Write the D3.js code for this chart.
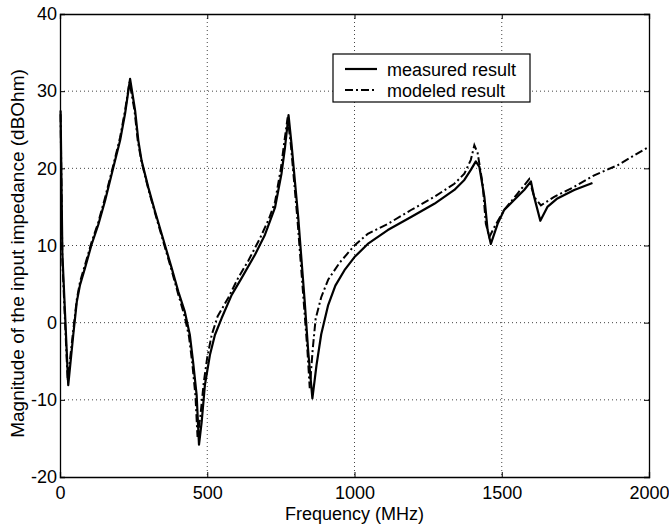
<!DOCTYPE html>
<html>
<head>
<meta charset="utf-8">
<script src="https://cdn.jsdelivr.net/npm/d3@7"></script>
<style>
  body { margin: 0; background: #fff; }
  text { font-family: Arial, "Liberation Sans", Helvetica, sans-serif; fill: #000; }
  .grid line { stroke: #444; stroke-width: 1; stroke-dasharray: 1,3; }
</style>
</head>
<body>
<div id="chart"></div>
<script>
// measured curve (MHz, dBOhm)
var measuredFreq = [2, 8, 28, 45, 57, 68, 85, 107, 130, 153, 181, 204, 221, 238, 255, 266, 277, 300, 322, 356, 379, 402, 424, 441, 452, 464, 472, 481, 492, 509, 526, 549, 583, 617, 662, 696, 730, 752, 764, 776, 786, 809, 831, 843, 857, 871, 887, 910, 935, 966, 1000, 1045, 1113, 1192, 1271, 1339, 1373, 1395, 1412, 1424, 1441, 1452, 1463, 1486, 1508, 1542, 1576, 1599, 1610, 1631, 1655, 1689, 1746, 1808];
var measuredMag  = [27.5, 9, -8.1, -1.6, 2.7, 4.9, 7.1, 10.1, 12.7, 15.8, 20.1, 23.6, 27.1, 31.6, 27.5, 23.6, 21, 17.5, 14.5, 10.1, 7.1, 4.0, 1.4, -1.6, -5.1, -9.4, -15.8, -12.9, -8.1, -4.2, -1.6, 0.6, 3.6, 5.8, 8.8, 11.4, 14.9, 19.3, 22.7, 26.9, 23.2, 13.6, 2.7, -3.8, -9.8, -5.5, -1.5, 2.2, 4.8, 6.8, 8.5, 10.2, 12, 13.7, 15.4, 17.2, 18.5, 19.8, 20.9, 20.2, 16.3, 12, 10.2, 12.8, 14.6, 15.9, 17.2, 18.3, 16.3, 13.2, 15, 16.1, 17.2, 18.1];

// modeled curve (MHz, dBOhm)
var modeledFreq = [2, 8, 26, 45, 57, 68, 85, 107, 130, 153, 181, 204, 221, 236, 253, 264, 276, 300, 322, 356, 379, 402, 422, 438, 449, 460, 467, 477, 488, 500, 515, 535, 571, 605, 639, 680, 710, 730, 750, 762, 773, 784, 806, 828, 840, 848, 858, 868, 887, 911, 950, 1000, 1045, 1113, 1192, 1271, 1339, 1373, 1395, 1407, 1418, 1435, 1446, 1458, 1475, 1508, 1553, 1593, 1610, 1633, 1678, 1746, 1814, 1893, 2000];
var modeledMag  = [27, 8, -7.5, -1, 3, 5.3, 7.5, 10.4, 13, 16.2, 20.4, 24, 27.5, 31.2, 27.5, 23.6, 21, 17.3, 14.3, 9.8, 6.8, 3.6, 1, -1.8, -5.2, -9.5, -14.8, -12, -7.8, -4.5, -1.6, 0.8, 3.2, 5.8, 8, 11, 13.5, 15.6, 20, 23.5, 26.6, 23, 13.5, 2.5, -3.5, -8.5, -3.5, 0.5, 3.3, 5.6, 7.8, 10, 11.5, 12.8, 14.6, 16.3, 18, 19.3, 21.1, 23, 22, 18, 12.8, 11.1, 12.4, 14.6, 16.7, 18.6, 16.3, 15.2, 16.3, 17.6, 19.1, 20.4, 22.8];

var xTicks = [0, 500, 1000, 1500, 2000];
var yTicks = [-20, -10, 0, 10, 20, 30, 40];

var seriesNames = ["measured result", "modeled result"];

var width = 669, height = 526;
var margin = {left: 60, right: 20, top: 14, bottom: 49};
var w = width - margin.left - margin.right;
var h = height - margin.top - margin.bottom;

var svg = d3.select("#chart").append("svg")
  .attr("width", width)
  .attr("height", height);

var x = d3.scaleLinear().domain([0, 2000]).range([0, w]);
var y = d3.scaleLinear().domain([-20, 40]).range([h, 0]);

var g = svg.append("g")
  .attr("transform", "translate(" + margin.left + "," + margin.top + ")");

// dotted grid
var grid = g.append("g").attr("class", "grid");
grid.selectAll(".vx").data(xTicks.slice(1, -1)).enter().append("line")
  .attr("x1", d => x(d)).attr("x2", d => x(d))
  .attr("y1", 0).attr("y2", h);
grid.selectAll(".hy").data(yTicks.slice(1, -1)).enter().append("line")
  .attr("x1", 0).attr("x2", w)
  .attr("y1", d => y(d)).attr("y2", d => y(d));

// axes with inward ticks on all four sides
var tick = 5;
var plain = d => String(d);
g.append("g").attr("transform", "translate(0," + h + ")")
  .call(d3.axisBottom(x).tickValues(xTicks).tickSize(-tick).tickPadding(9).tickFormat(plain))
  .call(a => a.selectAll("text").style("font-size", "18px"));
g.append("g")
  .call(d3.axisTop(x).tickValues(xTicks).tickSize(-tick).tickFormat(""));
g.append("g")
  .call(d3.axisLeft(y).tickValues(yTicks).tickSize(-tick).tickPadding(3).tickFormat(plain))
  .call(a => a.selectAll("text").style("font-size", "18px"));
g.append("g").attr("transform", "translate(" + w + ",0)")
  .call(d3.axisRight(y).tickValues(yTicks).tickSize(-tick).tickFormat(""));
g.selectAll(".domain").attr("stroke", "#000").attr("stroke-width", 1.3);
g.selectAll(".tick line").attr("stroke", "#000");

// curves
var line = d3.line()
  .x(d => x(d[0]))
  .y(d => y(d[1]));

var measured = measuredFreq.map((f, i) => [f, measuredMag[i]]);
var modeled = modeledFreq.map((f, i) => [f, modeledMag[i]]);

var dashDot = "8,3,2,3";

g.append("path")
  .datum(modeled)
  .attr("fill", "none")
  .attr("stroke", "#000")
  .attr("stroke-width", 2)
  .attr("stroke-dasharray", dashDot)
  .attr("d", line);

g.append("path")
  .datum(measured)
  .attr("fill", "none")
  .attr("stroke", "#000")
  .attr("stroke-width", 2.2)
  .attr("stroke-linejoin", "round")
  .attr("d", line);

// axis labels
svg.append("text")
  .attr("x", margin.left + w / 2)
  .attr("y", 520)
  .attr("text-anchor", "middle")
  .style("font-size", "18px")
  .text("Frequency (MHz)");

svg.append("text")
  .attr("transform", "translate(24," + (margin.top + h / 2 + 8) + ") rotate(-90)")
  .attr("text-anchor", "middle")
  .style("font-size", "19px")
  .text("Magnitude of the input impedance (dBOhm)");

// legend
var lg = svg.append("g").attr("transform", "translate(333,54)");
lg.append("rect")
  .attr("width", 197).attr("height", 48)
  .attr("fill", "#fff").attr("stroke", "#000").attr("stroke-width", 1.2);
seriesNames.forEach((name, i) => {
  var ly = 15 + i * 21;
  lg.append("line")
    .attr("x1", 12).attr("x2", 44)
    .attr("y1", ly).attr("y2", ly)
    .attr("stroke", "#000")
    .attr("stroke-width", i == 0 ? 2.2 : 2)
    .attr("stroke-dasharray", i == 0 ? null : dashDot);
  lg.append("text")
    .attr("x", 54).attr("y", ly + 7)
    .style("font-size", "18px")
    .text(name);
});
</script>
</body>
</html>
